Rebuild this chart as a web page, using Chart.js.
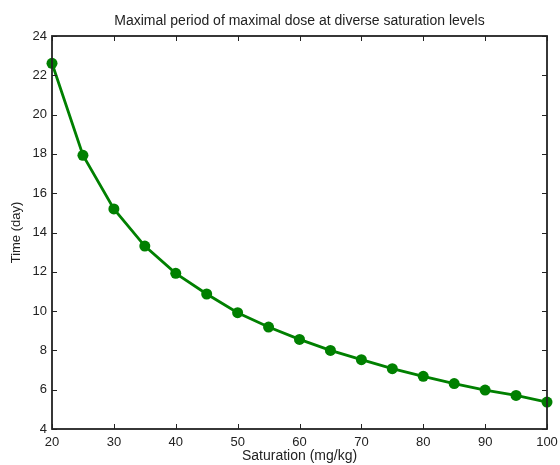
<!DOCTYPE html>
<html>
<head>
<meta charset="utf-8">
<script src="https://cdn.jsdelivr.net/npm/chart.js@4"></script>
<style>
  html, body { margin: 0; padding: 0; background: #ffffff; }
  #wrap { width: 560px; height: 465px; }
</style>
</head>
<body>
<div id="wrap"><canvas id="c" width="560" height="465"></canvas></div>
<script>
// Saturation levels (mg/kg)
const saturation = [20, 25, 30, 35, 40, 45, 50, 55, 60, 65, 70, 75, 80, 85, 90, 95, 100];
// Maximal period of maximal dose (days)
const timeDays = [22.61, 17.93, 15.20, 13.31, 11.92, 10.87, 9.92, 9.19, 8.56, 8.00, 7.53, 7.07, 6.68, 6.31, 5.98, 5.71, 5.37];
// Axis ranges and tick steps
const xRange = [20, 100], xStep = 10;
const yRange = [4, 24], yStep = 2;
const chartTitle = 'Maximal period of maximal dose at diverse saturation levels';

const font = "'Liberation Sans', Arial, Helvetica, sans-serif";
const ink = '#222222';

// Box frame with inward ticks on all four sides, plus the title centred over the plot area
const boxTicks = {
  id: 'boxTicks',
  afterDatasetsDraw(chart) {
    const { ctx, chartArea: a, scales } = chart;
    const len = 5;
    ctx.save();
    ctx.strokeStyle = ink;
    ctx.lineWidth = 1;
    ctx.beginPath();
    scales.x.ticks.forEach(t => {
      const px = Math.round(scales.x.getPixelForValue(t.value)) + 0.5;
      ctx.moveTo(px, a.bottom); ctx.lineTo(px, a.bottom - len);
      ctx.moveTo(px, a.top); ctx.lineTo(px, a.top + len);
    });
    scales.y.ticks.forEach(t => {
      const py = Math.round(scales.y.getPixelForValue(t.value)) + 0.5;
      ctx.moveTo(a.left, py); ctx.lineTo(a.left + len, py);
      ctx.moveTo(a.right, py); ctx.lineTo(a.right - len, py);
    });
    ctx.stroke();
    ctx.lineWidth = 1.8;
    ctx.strokeRect(a.left, a.top, a.right - a.left, a.bottom - a.top);

    ctx.fillStyle = ink;
    ctx.font = '14px ' + font;
    ctx.textAlign = 'center';
    ctx.textBaseline = 'alphabetic';
    ctx.fillText(chartTitle, (a.left + a.right) / 2, a.top - 11);
    ctx.restore();
  }
};

new Chart(document.getElementById('c'), {
  type: 'line',
  data: {
    datasets: [{
      data: saturation.map((s, i) => ({ x: s, y: timeDays[i] })),
      borderColor: '#008000',
      backgroundColor: '#008000',
      borderWidth: 2.8,
      pointRadius: 5.5,
      pointHoverRadius: 5.5,
      pointBorderWidth: 0,
      tension: 0,
      clip: false
    }]
  },
  options: {
    responsive: false,
    animation: false,
    events: [],
    layout: { padding: { left: 0, right: 13, top: 36, bottom: 0 } },
    plugins: {
      legend: { display: false },
      tooltip: { enabled: false },
      title: { display: false }
    },
    scales: {
      x: {
        type: 'linear',
        min: xRange[0], max: xRange[1],
        ticks: { stepSize: xStep, color: ink, font: { family: font, size: 13 }, padding: 6, maxRotation: 0 },
        grid: { display: false, drawTicks: false },
        border: { display: false },
        title: {
          display: true, text: 'Saturation (mg/kg)', color: ink,
          font: { family: font, size: 14 }, padding: { top: 1, bottom: 0 }
        },
        afterFit(s) { s.height = 36; s.paddingLeft = 0; s.paddingRight = 0; }
      },
      y: {
        type: 'linear',
        min: yRange[0], max: yRange[1],
        ticks: { stepSize: yStep, color: ink, font: { family: font, size: 13 }, padding: 5 },
        grid: { display: false, drawTicks: false },
        border: { display: false },
        title: {
          display: true, text: 'Time (day)', color: ink,
          font: { family: font, size: 13 }, padding: { top: 9, bottom: 4 }
        },
        afterFit(s) { s.width = 52; }
      }
    }
  },
  plugins: [boxTicks]
});
</script>
</body>
</html>
